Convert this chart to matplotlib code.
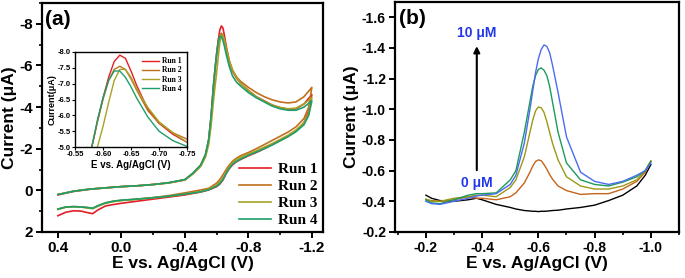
import matplotlib
matplotlib.use("Agg")
import matplotlib.pyplot as plt
from matplotlib.ticker import MultipleLocator

plt.rcParams['font.family'] = ['Liberation Sans', 'DejaVu Sans']
plt.rcParams['font.weight'] = 'bold'
plt.rcParams['axes.labelweight'] = 'bold'

# ---- panel (a): CV, four runs ----
E_fwd = [0.40, 0.30, 0.20, 0.10, 0.00, -0.10, -0.20, -0.30, -0.40, -0.45, -0.50, -0.53,
         -0.55, -0.565, -0.58, -0.59, -0.60, -0.61, -0.62, -0.63, -0.64, -0.65, -0.66,
         -0.68, -0.70, -0.725, -0.75, -0.80, -0.85, -0.90, -0.95, -1.00, -1.05, -1.10,
         -1.15, -1.20]
E_rev = [-1.20, -1.18, -1.15, -1.10, -1.05, -1.00, -0.95, -0.90, -0.85, -0.80, -0.75,
         -0.72, -0.70, -0.68, -0.66, -0.64, -0.62, -0.60, -0.55, -0.50, -0.40, -0.30,
         -0.20, -0.10, 0.00, 0.05, 0.10, 0.15, 0.18, 0.22, 0.25, 0.30, 0.35, 0.40]

run1_fwd = [0.22, 0.05, -0.05, -0.12, -0.18, -0.22, -0.28, -0.36, -0.50, -0.80, -1.20, -1.70,
            -2.40, -3.50, -5.00, -5.80, -6.55, -7.20, -7.70, -7.90, -7.80, -7.40, -6.95,
            -6.20, -5.75, -5.40, -5.15, -4.80, -4.50, -4.30, -4.10, -3.98, -3.90, -3.92,
            -4.15, -4.60]
run2_fwd = [0.20, 0.04, -0.06, -0.12, -0.18, -0.22, -0.28, -0.37, -0.52, -0.82, -1.22, -1.72,
            -2.42, -3.50, -5.00, -5.80, -6.50, -7.10, -7.45, -7.55, -7.45, -7.15, -6.80,
            -6.15, -5.75, -5.45, -5.25, -4.95, -4.70, -4.50, -4.35, -4.25, -4.20, -4.25,
            -4.50, -4.95]
run3_fwd = [0.20, 0.04, -0.06, -0.12, -0.18, -0.22, -0.28, -0.36, -0.50, -0.78, -1.15, -1.60,
            -2.20, -3.10, -4.30, -5.00, -5.65, -6.40, -7.10, -7.45, -7.45, -7.20, -6.85,
            -6.25, -5.80, -5.45, -5.15, -4.80, -4.50, -4.28, -4.10, -3.98, -3.92, -3.95,
            -4.15, -4.45]
run4_fwd = [0.20, 0.04, -0.06, -0.12, -0.18, -0.22, -0.28, -0.37, -0.52, -0.82, -1.22, -1.72,
            -2.45, -3.55, -5.00, -5.85, -6.55, -7.10, -7.40, -7.40, -7.20, -6.90, -6.55,
            -5.95, -5.50, -5.20, -5.02, -4.70, -4.45, -4.25, -4.05, -3.92, -3.85, -3.85,
            -4.00, -4.30]

run1_rev = [-4.60, -3.80, -3.25, -2.85, -2.60, -2.40, -2.20, -2.00, -1.82, -1.66, -1.48,
            -1.35, -1.22, -1.05, -0.80, -0.50, -0.30, -0.18, -0.02, 0.08, 0.22, 0.32,
            0.42, 0.52, 0.62, 0.68, 0.75, 0.95, 1.12, 1.06, 1.00, 0.98, 1.05, 1.22]
run2_rev = [-4.95, -4.00, -3.45, -3.05, -2.80, -2.60, -2.40, -2.20, -2.00, -1.82, -1.66,
            -1.52, -1.40, -1.22, -1.00, -0.75, -0.52, -0.35, -0.10, -0.02, 0.12, 0.25,
            0.35, 0.42, 0.48, 0.52, 0.60, 0.75, 0.86, 0.82, 0.80, 0.78, 0.80, 0.90]
run3_rev = [-4.45, -3.70, -3.25, -2.90, -2.65, -2.45, -2.25, -2.08, -1.90, -1.75, -1.58,
            -1.45, -1.32, -1.12, -0.88, -0.60, -0.40, -0.25, -0.06, 0.06, 0.18, 0.28,
            0.36, 0.43, 0.49, 0.54, 0.62, 0.77, 0.88, 0.84, 0.81, 0.79, 0.81, 0.92]
run4_rev = [-4.30, -3.60, -3.15, -2.82, -2.58, -2.38, -2.18, -2.00, -1.84, -1.68, -1.50,
            -1.37, -1.25, -1.06, -0.82, -0.52, -0.33, -0.20, -0.03, 0.07, 0.18, 0.28,
            0.35, 0.42, 0.47, 0.52, 0.60, 0.74, 0.86, 0.82, 0.80, 0.78, 0.80, 0.90]

run_labels = ["Run 1", "Run 2", "Run 3", "Run 4"]
run_colors = ["#e41e26", "#c0701c", "#a8a226", "#1e9e6a"]
runs = [(run1_fwd, run1_rev), (run2_fwd, run2_rev), (run3_fwd, run3_rev), (run4_fwd, run4_rev)]

# ---- panel (b): DPV, 0 -> 10 uM ----
E_dpv = [-0.20, -0.22, -0.25, -0.30, -0.35, -0.38, -0.40, -0.45, -0.50, -0.52, -0.55, -0.57,
         -0.58, -0.59, -0.60, -0.61, -0.62, -0.63, -0.64, -0.65, -0.67, -0.70, -0.75, -0.80,
         -0.85, -0.90, -0.95, -0.98, -1.00]
dpv_black = [-0.44, -0.42, -0.405, -0.40, -0.41, -0.42, -0.41, -0.38, -0.36, -0.35, -0.34, -0.337,
             -0.335, -0.335, -0.333, -0.335, -0.335, -0.336, -0.338, -0.34, -0.342, -0.35, -0.36,
             -0.375, -0.405, -0.44, -0.50, -0.57, -0.64]
dpv_orange = [-0.41, -0.405, -0.40, -0.41, -0.43, -0.42, -0.42, -0.41, -0.43, -0.455, -0.52, -0.59,
              -0.63, -0.66, -0.67, -0.665, -0.64, -0.61, -0.575, -0.545, -0.50, -0.47, -0.445,
              -0.45, -0.45, -0.48, -0.53, -0.59, -0.66]
dpv_olive = [-0.415, -0.40, -0.40, -0.42, -0.43, -0.44, -0.44, -0.43, -0.49, -0.54, -0.69, -0.85,
             -0.93, -0.99, -1.015, -1.01, -0.98, -0.92, -0.85, -0.78, -0.67, -0.56, -0.50,
             -0.48, -0.48, -0.50, -0.54, -0.60, -0.665]
dpv_green = [-0.41, -0.39, -0.385, -0.41, -0.44, -0.45, -0.45, -0.455, -0.54, -0.60, -0.85, -1.05,
             -1.15, -1.22, -1.26, -1.27, -1.255, -1.22, -1.15, -1.05, -0.85, -0.65, -0.54,
             -0.51, -0.50, -0.525, -0.56, -0.60, -0.66]
dpv_blue = [-0.40, -0.385, -0.38, -0.40, -0.42, -0.435, -0.44, -0.45, -0.51, -0.57, -0.78, -1.00,
            -1.12, -1.24, -1.33, -1.39, -1.42, -1.41, -1.37, -1.29, -1.11, -0.82, -0.59,
            -0.53, -0.51, -0.53, -0.57, -0.60, -0.65]
dpv_series = [dpv_black, dpv_orange, dpv_olive, dpv_green, dpv_blue]
dpv_colors = ["black", "#c4641a", "#9c9818", "#1e9a5a", "#4a6cee"]

fig = plt.figure(figsize=(6.85, 2.78), dpi=100)
axa = fig.add_axes([0.0613, 0.1655, 0.4102, 0.8235])
axb = fig.add_axes([0.5766, 0.1655, 0.4146, 0.8275])

def style(ax, size):
    for s in ax.spines.values():
        s.set_linewidth(1.6)
    ax.tick_params(direction='out', width=1.4, length=4, labelsize=size, pad=2.5)
    ax.tick_params(which='minor', direction='out', width=1.2, length=2.5)

# panel a
for (fw, rv), c, lab in zip(runs, run_colors, run_labels):
    axa.plot(E_fwd + E_rev, fw + rv, color=c, lw=1.2, label=lab)
axa.set_xlim(0.5, -1.27)
axa.set_ylim(2, -9)
axa.set_xticks([0.4, 0.0, -0.4, -0.8, -1.2])
axa.set_xticklabels(["0.4", "0.0", "-0.4", "-0.8", "-1.2"])
axa.set_yticks([-8, -6, -4, -2, 0, 2])
axa.set_yticklabels(["-8", "-6", "-4", "-2", "0", "2"])
axa.xaxis.set_minor_locator(MultipleLocator(0.2))
axa.yaxis.set_minor_locator(MultipleLocator(1))
style(axa, 11)
axa.set_xlabel("E vs. Ag/AgCl (V)", fontsize=12.5, labelpad=1)
axa.set_ylabel("Current (μA)", fontsize=12.5, labelpad=2)
axa.text(0.01, 0.97, "(a)", transform=axa.transAxes, fontsize=15, fontweight='bold',
         va='top', ha='left')
axa.legend(loc='lower right', bbox_to_anchor=(1.015, -0.02), frameon=False,
           handlelength=2.1, handletextpad=0.5, labelspacing=0.22, borderaxespad=0.2,
           prop={'family': 'Liberation Serif', 'weight': 'bold', 'size': 11})

# inset
ins = fig.add_axes([0.1095, 0.471, 0.1635, 0.342])
for (fw, rv), c, lab in zip(runs, run_colors, run_labels):
    ins.plot(E_fwd, fw, color=c, lw=1.0, label=lab)
ins.set_xlim(-0.55, -0.75)
ins.set_ylim(-5.0, -8.0)
ins.set_xticks([-0.55, -0.60, -0.65, -0.70, -0.75])
ins.set_xticklabels(["-0.55", "-0.60", "-0.65", "-0.70", "-0.75"])
ins.set_yticks([-8.0, -7.5, -7.0, -6.5, -6.0, -5.5, -5.0])
ins.set_yticklabels(["-8.0", "-7.5", "-7.0", "-6.5", "-6.0", "-5.5", "-5.0"])
for s in ins.spines.values():
    s.set_linewidth(1.0)
ins.tick_params(direction='out', width=0.8, length=2, labelsize=5.5, pad=1)
ins.set_xlabel("E vs. Ag/AgCl (V)", fontsize=7, labelpad=1)
ins.set_ylabel("Current(μA)", fontsize=6.5, labelpad=1)
ins.legend(loc='upper right', frameon=False, handlelength=2.2, handletextpad=0.4,
           labelspacing=0.15, borderaxespad=0.3,
           prop={'family': 'Liberation Serif', 'weight': 'bold', 'size': 5.5})

# panel b
for y, c in zip(dpv_series, dpv_colors):
    axb.plot(E_dpv, y, color=c, lw=1.0)
axb.set_xlim(-0.09, -1.1)
axb.set_ylim(-0.2, -1.7)
axb.set_xticks([-0.2, -0.4, -0.6, -0.8, -1.0])
axb.set_xticklabels(["-0.2", "-0.4", "-0.6", "-0.8", "-1.0"])
axb.set_yticks([-1.6, -1.4, -1.2, -1.0, -0.8, -0.6, -0.4, -0.2])
axb.set_yticklabels(["-1.6", "-1.4", "-1.2", "-1.0", "-0.8", "-0.6", "-0.4", "-0.2"])
axb.xaxis.set_minor_locator(MultipleLocator(0.1))
style(axb, 10)
axb.set_xlabel("E vs. Ag/AgCl (V)", fontsize=12.5, labelpad=1)
axb.set_ylabel("Current (μA)", fontsize=12.5, labelpad=2)
axb.text(0.015, 0.97, "(b)", transform=axb.transAxes, fontsize=15, fontweight='bold',
         va='top', ha='left')
axb.annotate("", xy=(-0.381, -1.43), xytext=(-0.381, -0.585),
             arrowprops=dict(arrowstyle='-|>', color='black', lw=1.5, mutation_scale=9))
axb.text(-0.38, -1.495, "10 μM", color='#2238e8', fontsize=10, fontweight='bold',
         ha='center', va='center')
axb.text(-0.38, -0.52, "0 μM", color='#2238e8', fontsize=10, fontweight='bold',
         ha='center', va='center')

fig.savefig("out.png", dpi=100)
